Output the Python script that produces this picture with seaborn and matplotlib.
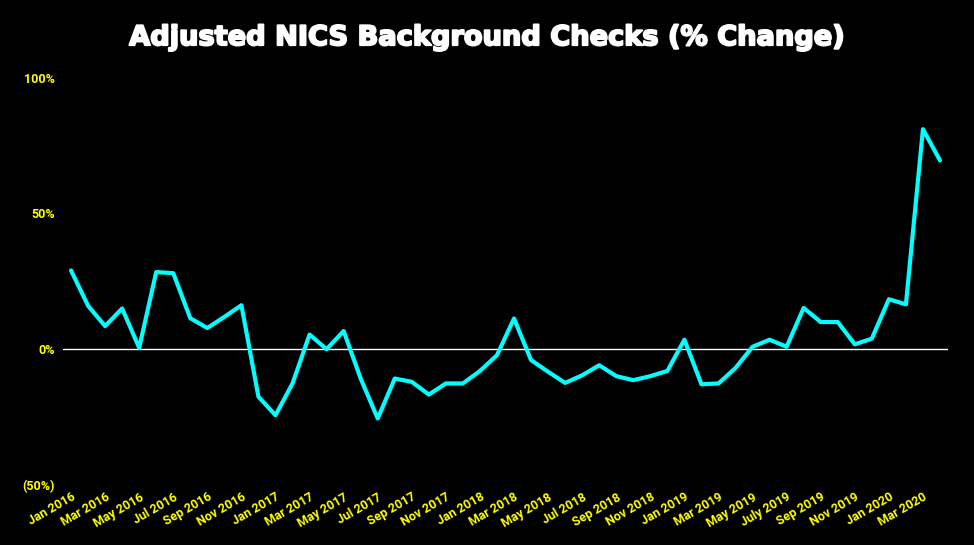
import matplotlib
matplotlib.use('Agg')
import matplotlib.pyplot as plt
import matplotlib.patheffects as pe
import pandas as pd
import seaborn as sns

# monthly % change, Jan 2016 .. Apr 2020
months = pd.date_range('2016-01-01', '2020-04-01', freq='MS')
pct_change = [
    29, 16, 8.5, 15, 0.5, 28.4, 28, 11.4, 7.8, 11.9, 16.2, -17.5,
    -24.3, -12.6, 5.4, 0, 6.7, -10.8, -25.5, -10.8, -12, -16.7, -12.6, -12.6,
    -8, -2.2, 11.3, -4, -8.3, -12.4, -9.6, -5.9, -9.9, -11.4, -9.9, -8,
    3.5, -12.9, -12.6, -6.9, 0.9, 3.5, 0.9, 15.2, 10, 10, 1.8, 3.9,
    18.4, 16.5, 81, 69.5,
]
tick_labels = [
    'Jan 2016', 'Mar 2016', 'May 2016', 'Jul 2016', 'Sep 2016', 'Nov 2016',
    'Jan 2017', 'Mar 2017', 'May 2017', 'Jul 2017', 'Sep 2017', 'Nov 2017',
    'Jan 2018', 'Mar 2018', 'May 2018', 'Jul 2018', 'Sep 2018', 'Nov 2018',
    'Jan 2019', 'Mar 2019', 'May 2019', 'July 2019', 'Sep 2019', 'Nov 2019',
    'Jan 2020', 'Mar 2020',
]
y_ticks = [-50, 0, 50, 100]
y_labels = ['(50%)', '0%', '50%', '100%']

df = pd.DataFrame({'idx': range(len(months)), 'pct': pct_change})

sns.set_style('dark')
plt.rcParams['font.family'] = ['Roboto', 'DejaVu Sans']

fig = plt.figure(figsize=(9.74, 5.45), dpi=100, facecolor='black')
ax = fig.add_axes([0.0647, 0.110, 0.9086, 0.7477])
ax.set_facecolor('black')

ax.axhline(0, color='white', lw=1, zorder=1)
sns.lineplot(data=df, x='idx', y='pct', color='#00FFFF', lw=3, ax=ax, zorder=2)

ax.set_xlim(-0.47, len(months) - 1 + 0.47)
ax.set_ylim(-50, 100)
ax.set_xticks(range(0, len(months), 2))
ax.set_xticklabels(tick_labels, rotation=30, ha='right', rotation_mode='anchor',
                   color='yellow', fontsize=9, fontweight='bold')
ax.set_yticks(y_ticks)
ax.set_yticklabels(y_labels, color='yellow', fontsize=9, fontweight='bold')
ax.tick_params(length=0, pad=6)
ax.tick_params(axis='x', pad=4)
ax.grid(False)
for s in ax.spines.values():
    s.set_visible(False)
ax.set_xlabel('')
ax.set_ylabel('')

# heavy title, thickened with a stroke
fig.text(0.5, 0.93, 'Adjusted NICS Background Checks (% Change)', ha='center', va='center',
         color='white', fontsize=19.6, fontweight='bold', family='DejaVu Sans',
         path_effects=[pe.withStroke(linewidth=1.4, foreground='white')])

fig.savefig('out.png', dpi=100, facecolor='black')
